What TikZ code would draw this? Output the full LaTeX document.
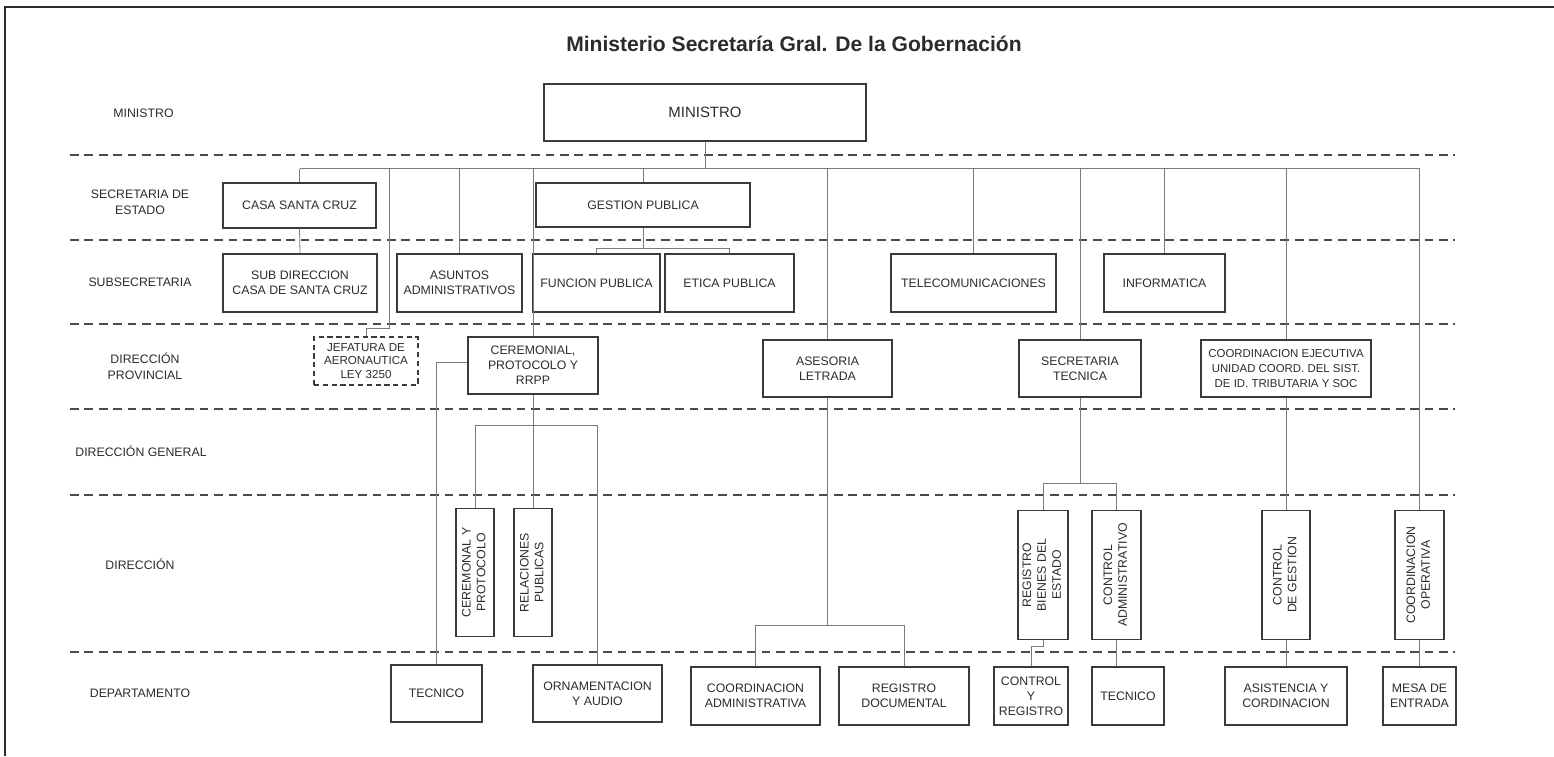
\documentclass[tikz,border=0pt]{standalone}
\usepackage{fontspec}
\setmainfont{Liberation Sans}
\usepackage{graphicx}
\usepackage{xcolor}

\definecolor{ink}{HTML}{2B2B2B}
\definecolor{boxline}{HTML}{3A3A3A}
\definecolor{linkgray}{HTML}{7A7A7A}
\definecolor{bandgray}{HTML}{4A4A4A}

\newcommand{\vtext}[1]{\rotatebox{90}{\begin{tabular}{@{}c@{}}#1\end{tabular}}}

\begin{document}
\begin{tikzpicture}[
        box/.style={
            rectangle,
            draw=boxline,
            line width=0.6pt,
            minimum height=1.14cm,
            inner sep=1pt,
            align=center,
            text=ink,
            font=\fontsize{7}{8.5}\selectfont
        },
        vbox/.style={
            box,
            minimum height=2.57cm
        },
        level/.style={
            align=center,
            text=ink,
            font=\fontsize{7}{9}\selectfont
        },
        link/.style={
            draw=linkgray,
            line width=0.45pt
        },
        band/.style={
            draw=bandgray,
            line width=0.8pt,
            dash pattern=on 5pt off 3.2pt
        }
    ]
    \useasboundingbox (0,0) rectangle (31.08,15.12);

    % Frame and title
    \draw[line width=1.1pt, draw=ink] (0.1,0) -- (0.1,14.98) -- (31.08,14.98);
    \node[text=ink, font=\fontsize{12}{14}\selectfont\bfseries] (title) at (15.88, 14.24) {Ministerio Secretaría Gral. De la Gobernación};

    % Level bands
    \foreach \y in {12.02, 10.32, 8.64, 6.94, 5.22, 2.08}
        \draw[band] (1.4,\y) -- (29.1,\y);

    % Level names
    \node[level] (lv_min) at (2.87, 12.86) {MINISTRO};
    \node[level] (lv_sec) at (2.80, 11.08) {SECRETARIA DE\\ESTADO};
    \node[level] (lv_sub) at (2.80, 9.48) {SUBSECRETARIA};
    \node[level] (lv_prov) at (2.90, 7.80) {DIRECCIÓN\\PROVINCIAL};
    \node[level] (lv_gen) at (2.82, 6.10) {DIRECCIÓN GENERAL};
    \node[level] (lv_dir) at (2.80, 3.84) {DIRECCIÓN};
    \node[level] (lv_dep) at (2.80, 1.26) {DEPARTAMENTO};

    % Ministro and Secretaria de Estado
    \node[box, minimum width=6.44cm, font=\fontsize{8.5}{10}\selectfont] (ministro) at (14.10, 12.87) {MINISTRO};
    \node[box, minimum width=3.06cm, minimum height=0.9cm] (casa) at (5.99, 11.01) {CASA SANTA CRUZ};
    \node[box, minimum width=4.28cm, minimum height=0.88cm] (gestion) at (12.86, 11.02) {GESTION PUBLICA};

    % Subsecretaria
    \node[box, minimum width=3.08cm, minimum height=1.16cm] (subdir) at (6.00, 9.46) {SUB DIRECCION\\CASA DE SANTA CRUZ};
    \node[box, minimum width=2.50cm, minimum height=1.16cm] (asuntos) at (9.19, 9.46) {ASUNTOS\\ADMINISTRATIVOS};
    \node[box, minimum width=2.54cm, minimum height=1.16cm] (funcion) at (11.93, 9.46) {FUNCION PUBLICA};
    \node[box, minimum width=2.58cm, minimum height=1.16cm] (etica) at (14.59, 9.46) {ETICA PUBLICA};
    \node[box, minimum width=3.30cm, minimum height=1.16cm] (telecom) at (19.47, 9.46) {TELECOMUNICACIONES};
    \node[box, minimum width=2.42cm, minimum height=1.16cm] (informatica) at (23.29, 9.46) {INFORMATICA};

    % Direccion provincial
    \node[box, dash pattern=on 3pt off 2pt, minimum width=2.08cm, minimum height=0.96cm, font=\fontsize{6.6}{7.9}\selectfont] (jefatura) at (7.32, 7.90) {JEFATURA DE\\AERONAUTICA\\LEY 3250};
    \node[box, minimum width=2.60cm] (ceremonial) at (10.66, 7.81) {CEREMONIAL,\\PROTOCOLO Y\\RRPP};
    \node[box, minimum width=2.58cm] (asesoria) at (16.55, 7.75) {ASESORIA\\LETRADA};
    \node[box, minimum width=2.44cm] (sectec) at (21.60, 7.75) {SECRETARIA\\TECNICA};
    \node[box, minimum width=3.40cm, font=\fontsize{6.5}{8.3}\selectfont] (coordej) at (25.72, 7.75) {COORDINACION EJECUTIVA\\UNIDAD COORD. DEL SIST.\\DE ID. TRIBUTARIA Y SOC};

    % Direccion
    \node[vbox, minimum width=0.76cm] (cerprot) at (9.50, 3.67) {\vtext{CEREMONAL Y\\PROTOCOLO}};
    \node[vbox, minimum width=0.76cm] (relpub) at (10.66, 3.67) {\vtext{RELACIONES\\PUBLICAS}};
    \node[vbox, minimum width=1.00cm] (regbienes) at (20.86, 3.62) {\vtext{REGISTRO\\BIENES DEL\\ESTADO}};
    \node[vbox, minimum width=0.98cm] (ctrladm) at (22.33, 3.62) {\vtext{CONTROL\\ADMINISTRATIVO}};
    \node[vbox, minimum width=0.96cm] (ctrlgest) at (25.72, 3.62) {\vtext{CONTROL\\DE GESTION}};
    \node[vbox, minimum width=0.98cm] (coordop) at (28.39, 3.62) {\vtext{COORDINACION\\OPERATIVA}};

    % Departamento
    \node[box, minimum width=1.82cm] (tecnicoA) at (8.73, 1.25) {TECNICO};
    \node[box, minimum width=2.58cm] (ornam) at (11.95, 1.25) {ORNAMENTACION\\Y AUDIO};
    \node[box, minimum width=2.58cm, minimum height=1.16cm] (coordadm) at (15.11, 1.20) {COORDINACION\\ADMINISTRATIVA};
    \node[box, minimum width=2.60cm, minimum height=1.16cm] (regdoc) at (18.08, 1.20) {REGISTRO\\DOCUMENTAL};
    \node[box, minimum width=1.48cm, minimum height=1.16cm] (ctrlreg) at (20.62, 1.20) {CONTROL\\Y\\REGISTRO};
    \node[box, minimum width=1.44cm, minimum height=1.16cm] (tecnicoB) at (22.56, 1.20) {TECNICO};
    \node[box, minimum width=2.44cm, minimum height=1.16cm] (asist) at (25.72, 1.20) {ASISTENCIA Y\\CORDINACION};
    \node[box, minimum width=1.46cm, minimum height=1.16cm] (mesa) at (28.39, 1.20) {MESA DE\\ENTRADA};

    % Links from the minister
    \draw[link] (ministro.south) -- ++(0,-0.54) coordinate (bus);
    \draw[link] (bus -| casa.north) -- (bus -| coordop.north);
    \foreach \n in {casa, asuntos, ceremonial, gestion, asesoria, telecom, sectec, informatica, coordej, coordop}
        \draw[link] (bus -| \n.north) -- (\n.north);
    \coordinate (jog) at (7.78, 8.56);
    \draw[link] (bus -| jog) -- (jog) -| (jefatura.north);

    % Links below
    \draw[link] (casa.south) -- (subdir.north);
    \draw[link] (gestion.south) -- ++(0,-0.42) coordinate (gsplit);
    \draw[link] (funcion.north) |- (gsplit) -| (etica.north);

    \draw[link] ([yshift=0.07cm]ceremonial.west) -| (tecnicoA.north);
    \draw[link] (ceremonial.south) -- ++(0,-0.62) coordinate (csplit);
    \draw[link] (cerprot.north) |- (csplit) -| (ornam.north);
    \draw[link] (csplit) -- (relpub.north);

    \draw[link] (asesoria.south) -- ++(0,-4.56) coordinate (asplit);
    \draw[link] (coordadm.north) |- (asplit) -| (regdoc.north);

    \draw[link] (sectec.south) -- ++(0,-1.72) coordinate (ssplit);
    \draw[link] (regbienes.north) |- (ssplit) -| (ctrladm.north);
    \draw[link] (regbienes.south) -- ++(0,-0.14) -| (ctrlreg.north);
    \draw[link] (ctrladm.south) -- (ctrladm.south |- tecnicoB.north);

    \draw[link] (coordej.south) -- (ctrlgest.north);
    \draw[link] (ctrlgest.south) -- (asist.north);
    \draw[link] (coordop.south) -- (mesa.north);

\end{tikzpicture}
\end{document}
